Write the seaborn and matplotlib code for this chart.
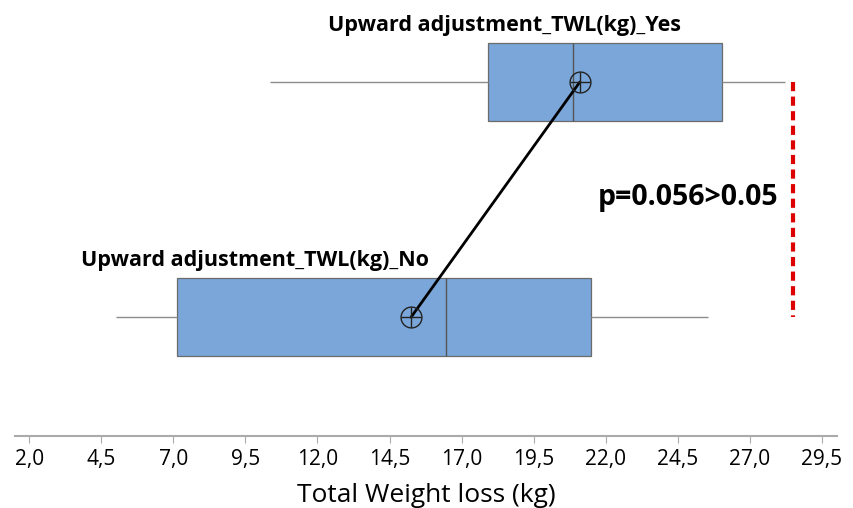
import numpy as np
import pandas as pd
import seaborn as sns
import matplotlib.pyplot as plt

# five-number summaries (min, Q1, median, Q3, max)
groups = ["Yes", "No"]
stats_yes = [10.36, 17.92, 20.86, 26.03, 28.2]
stats_no = [5.0, 7.13, 16.46, 21.49, 25.54]
means = [21.1, 15.25]
group_labels = ["Upward adjustment_TWL(kg)_Yes", "Upward adjustment_TWL(kg)_No"]
ticks = [2.0, 4.5, 7.0, 9.5, 12.0, 14.5, 17.0, 19.5, 22.0, 24.5, 27.0, 29.5]
p_text = "p=0.056>0.05"
p_line_x = 28.49

df = pd.DataFrame({
    "group": ["Yes"] * len(stats_yes) + ["No"] * len(stats_no),
    "twl": stats_yes + stats_no,
})

sns.set_style("white")
plt.rcParams["font.family"] = ["Open Sans", "DejaVu Sans"]

fig = plt.figure(figsize=(8.54, 5.08), dpi=100)
ax = fig.add_axes([15 / 854, 1 - 436 / 508, 822 / 854, 436 / 508])

sns.boxplot(data=df, x="twl", y="group", order=groups, orient="h", ax=ax,
            width=0.33, whis=10, color="#7BA6D9", saturation=1,
            linecolor="#6b6b6b", linewidth=0.9, showcaps=False, fliersize=0,
            whiskerprops={"color": "#8c8c8c", "linewidth": 1.0},
            medianprops={"color": "#555555", "linewidth": 1.0})

# mean connector and crosshair markers
ax.plot(means, [0, 1], color="black", lw=2, zorder=4)
ax.plot(means, [0, 1], ls="none", marker="o", ms=15, mfc="none",
        mec="#222222", mew=1.0, zorder=5)
ax.plot(means, [0, 1], ls="none", marker="+", ms=15, mec="#222222",
        mew=1.0, zorder=5)

ax.plot([p_line_x, p_line_x], [0, 1], color="#dd0000", lw=3,
        ls=(0, (2.2, 1.3)), zorder=3)

ax.text(18.5, -0.24, group_labels[0], ha="center", va="center",
        fontsize=15.5, fontweight="bold", color="black")
ax.text(9.84, 0.76, group_labels[1], ha="center", va="center",
        fontsize=15.5, fontweight="bold", color="black")
ax.text(24.85, 0.49, p_text, ha="center", va="center",
        fontsize=20.5, fontweight="bold", color="black")

ax.set_xlim(1.51, 30.02)
ax.set_ylim(1.506, -0.349)
ax.set_xticks(ticks)
ax.set_xticklabels([f"{t:.1f}".replace(".", ",") for t in ticks], fontsize=15)
ax.set_yticks([])
ax.set_ylabel("")
ax.set_xlabel("Total Weight loss (kg)", fontsize=19, labelpad=10, color="black")
ax.tick_params(axis="x", bottom=True, length=5, color="#aaaaaa", pad=4,
               labelcolor="black")
for s in ["top", "left", "right"]:
    ax.spines[s].set_visible(False)
ax.spines["bottom"].set_color("#aaaaaa")
ax.spines["bottom"].set_linewidth(1.5)

fig.savefig("out.png", dpi=100)
